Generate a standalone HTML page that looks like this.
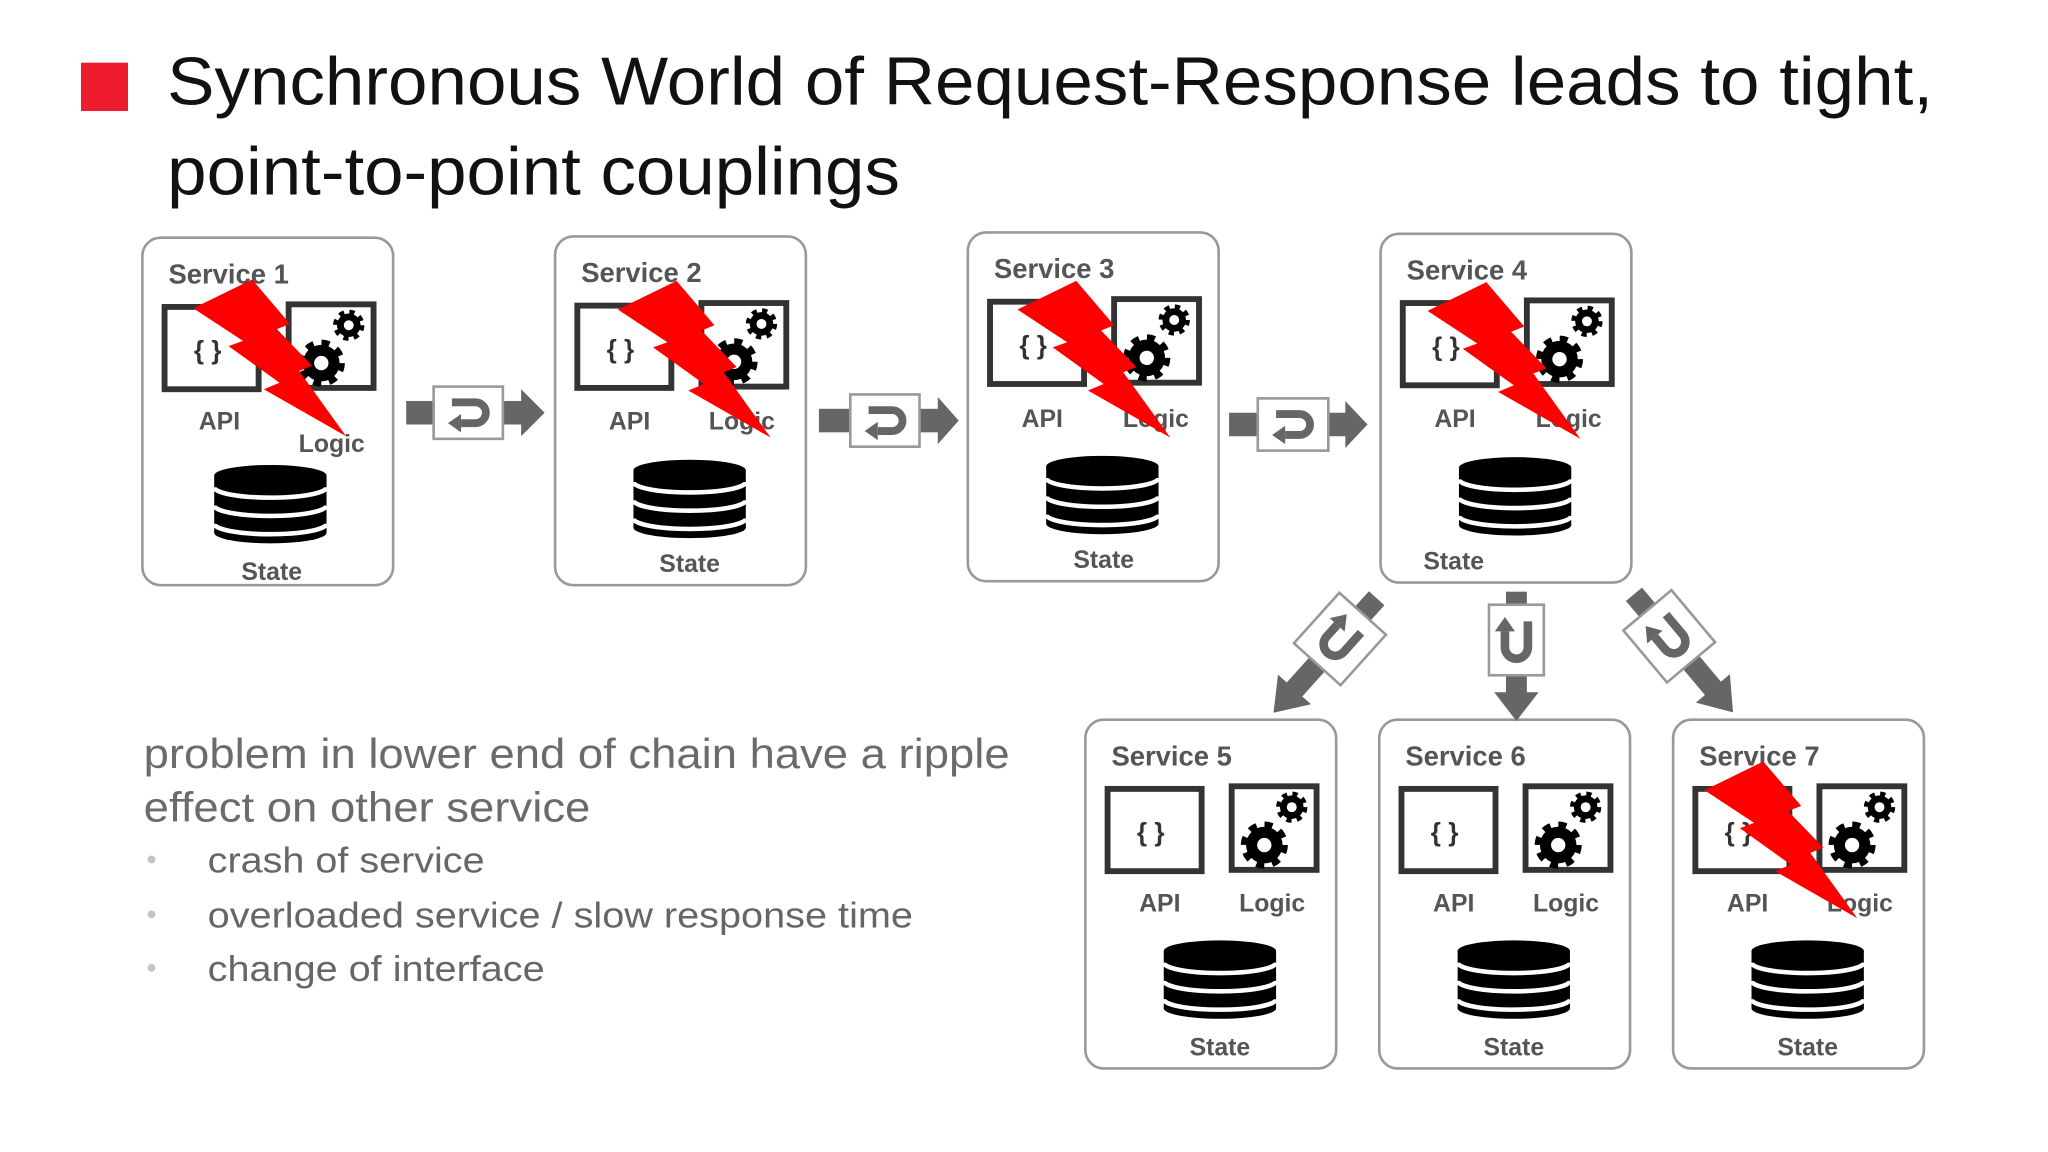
<!DOCTYPE html>
<html><head><meta charset="utf-8"><style>html,body{margin:0;padding:0;background:#fff}svg{display:block}</style></head>
<body>
<svg xmlns="http://www.w3.org/2000/svg" xmlns:xlink="http://www.w3.org/1999/xlink" width="2048" height="1152" viewBox="0 0 1568 882" preserveAspectRatio="none" font-family="Liberation Sans, Arial, sans-serif">
<defs>
  <g id="core">
    <rect x="17" y="53" width="72" height="63" fill="#fff" stroke="#333" stroke-width="4.5"/>
    <rect x="112" y="51" width="65" height="64" fill="#fff" stroke="#333" stroke-width="4.5"/>
    <g transform="translate(137,96)">
      <circle r="14" fill="#000"/>
      <circle r="14" fill="none" stroke="#000" stroke-width="8" stroke-dasharray="5.5 5.5"/>
      <circle r="5.5" fill="#fff"/>
    </g>
    <g transform="translate(158,67)">
      <circle r="9" fill="#000"/>
      <circle r="9" fill="none" stroke="#000" stroke-width="6" stroke-dasharray="3.5 3.6"/>
      <circle r="3.8" fill="#fff"/>
    </g>
  </g>
  <g id="db">
    <rect x="55" y="8" width="86" height="44" fill="#000"/>
    <ellipse cx="98" cy="8" rx="43" ry="8" fill="#000"/>
    <ellipse cx="98" cy="52" rx="43" ry="8" fill="#000"/>
    <path d="M55,17 A43,8 0 0 0 141,17 M55,31 A43,8 0 0 0 141,31 M55,45 A43,8 0 0 0 141,45" fill="none" stroke="#fff" stroke-width="3.5"/>
  </g>
  <polygon id="bolt" fill="#ff0000" points="24,54 69,32 98,66 88,70 115,98 105,102 141,152 78,116 90,111 51,83 62,79"/>
  <g id="uicon">
    <path d="M-13,-8 H5 A8,8 0 0 1 5,8 H-6" fill="none" stroke="#666" stroke-width="6"/>
    <polygon points="-6,1 -6,15 -16,8" fill="#666"/>
  </g>
</defs>

<!-- title -->
<rect x="62" y="48" width="36" height="37" fill="#ee1c2e"/>
<text x="128" y="80" font-size="52" fill="#111" textLength="1352" lengthAdjust="spacingAndGlyphs">Synchronous World of Request-Response leads to tight,</text>
<text x="128" y="149" font-size="52" fill="#111" textLength="561" lengthAdjust="spacingAndGlyphs">point-to-point couplings</text>

<!-- body text -->
<text x="110" y="588" font-size="32" fill="#6b6b6b" textLength="663" lengthAdjust="spacingAndGlyphs">problem in lower end of chain have a ripple</text>
<text x="110" y="629" font-size="32" fill="#6b6b6b" textLength="342" lengthAdjust="spacingAndGlyphs">effect on other service</text>
<circle cx="116" cy="658" r="3" fill="#c4c4c4"/>
<circle cx="116" cy="700" r="3" fill="#c4c4c4"/>
<circle cx="116" cy="741" r="3" fill="#c4c4c4"/>
<text x="159" y="668" font-size="28" fill="#666" textLength="212" lengthAdjust="spacingAndGlyphs">crash of service</text>
<text x="159" y="710" font-size="28" fill="#666" textLength="540" lengthAdjust="spacingAndGlyphs">overloaded service / slow response time</text>
<text x="159" y="751" font-size="28" fill="#666" textLength="258" lengthAdjust="spacingAndGlyphs">change of interface</text>

<!-- Service 1 -->
<g transform="translate(109,182)">
  <rect x="0" y="0" width="192" height="266" rx="14" fill="#fff" stroke="#999" stroke-width="2"/>
  <use xlink:href="#core"/>
  <text x="50" y="93" font-size="20" font-weight="bold" fill="#333" text-anchor="middle">{ }</text>
  <use xlink:href="#db" transform="translate(0,174)"/>
  <text x="20" y="35" font-size="21" font-weight="bold" fill="#555">Service 1</text>
  <text x="59" y="147" font-size="19" font-weight="bold" fill="#555" text-anchor="middle">API</text>
  <text x="145" y="164" font-size="19" font-weight="bold" fill="#555" text-anchor="middle">Logic</text>
  <text x="99" y="262" font-size="19" font-weight="bold" fill="#555" text-anchor="middle">State</text>
  <use xlink:href="#bolt" transform="translate(15,0)"/>
</g>
<!-- Service 2 -->
<g transform="translate(425,181)">
  <rect x="0" y="0" width="192" height="267" rx="14" fill="#fff" stroke="#999" stroke-width="2"/>
  <use xlink:href="#core"/>
  <text x="50" y="93" font-size="20" font-weight="bold" fill="#333" text-anchor="middle">{ }</text>
  <use xlink:href="#db" transform="translate(5,171)"/>
  <text x="20" y="35" font-size="21" font-weight="bold" fill="#555">Service 2</text>
  <text x="57" y="148" font-size="19" font-weight="bold" fill="#555" text-anchor="middle">API</text>
  <text x="143" y="148" font-size="19" font-weight="bold" fill="#555" text-anchor="middle">Logic</text>
  <text x="103" y="257" font-size="19" font-weight="bold" fill="#555" text-anchor="middle">State</text>
  <use xlink:href="#bolt" transform="translate(24,2)"/>
</g>
<!-- Service 3 -->
<g transform="translate(741,178)">
  <rect x="0" y="0" width="192" height="267" rx="14" fill="#fff" stroke="#999" stroke-width="2"/>
  <use xlink:href="#core"/>
  <text x="50" y="93" font-size="20" font-weight="bold" fill="#333" text-anchor="middle">{ }</text>
  <use xlink:href="#db" transform="translate(5,171)"/>
  <text x="20" y="35" font-size="21" font-weight="bold" fill="#555">Service 3</text>
  <text x="57" y="149" font-size="19" font-weight="bold" fill="#555" text-anchor="middle">API</text>
  <text x="144" y="149" font-size="19" font-weight="bold" fill="#555" text-anchor="middle">Logic</text>
  <text x="104" y="257" font-size="19" font-weight="bold" fill="#555" text-anchor="middle">State</text>
  <use xlink:href="#bolt" transform="translate(14,5)"/>
</g>
<!-- Service 4 -->
<g transform="translate(1057,179)">
  <rect x="0" y="0" width="192" height="267" rx="14" fill="#fff" stroke="#999" stroke-width="2"/>
  <use xlink:href="#core"/>
  <text x="50" y="93" font-size="20" font-weight="bold" fill="#333" text-anchor="middle">{ }</text>
  <use xlink:href="#db" transform="translate(5,171)"/>
  <text x="20" y="35" font-size="21" font-weight="bold" fill="#555">Service 4</text>
  <text x="57" y="148" font-size="19" font-weight="bold" fill="#555" text-anchor="middle">API</text>
  <text x="144" y="148" font-size="19" font-weight="bold" fill="#555" text-anchor="middle">Logic</text>
  <text x="56" y="257" font-size="19" font-weight="bold" fill="#555" text-anchor="middle">State</text>
  <use xlink:href="#bolt" transform="translate(12,5)"/>
</g>
<!-- Service 5 -->
<g transform="translate(831,551)">
  <rect x="0" y="0" width="192" height="267" rx="14" fill="#fff" stroke="#999" stroke-width="2"/>
  <use xlink:href="#core"/>
  <text x="50" y="93" font-size="20" font-weight="bold" fill="#333" text-anchor="middle">{ }</text>
  <use xlink:href="#db" transform="translate(5,169)"/>
  <text x="20" y="35" font-size="21" font-weight="bold" fill="#555">Service 5</text>
  <text x="57" y="147" font-size="19" font-weight="bold" fill="#555" text-anchor="middle">API</text>
  <text x="143" y="147" font-size="19" font-weight="bold" fill="#555" text-anchor="middle">Logic</text>
  <text x="103" y="257" font-size="19" font-weight="bold" fill="#555" text-anchor="middle">State</text>
</g>
<!-- Service 6 -->
<g transform="translate(1056,551)">
  <rect x="0" y="0" width="192" height="267" rx="14" fill="#fff" stroke="#999" stroke-width="2"/>
  <use xlink:href="#core"/>
  <text x="50" y="93" font-size="20" font-weight="bold" fill="#333" text-anchor="middle">{ }</text>
  <use xlink:href="#db" transform="translate(5,169)"/>
  <text x="20" y="35" font-size="21" font-weight="bold" fill="#555">Service 6</text>
  <text x="57" y="147" font-size="19" font-weight="bold" fill="#555" text-anchor="middle">API</text>
  <text x="143" y="147" font-size="19" font-weight="bold" fill="#555" text-anchor="middle">Logic</text>
  <text x="103" y="257" font-size="19" font-weight="bold" fill="#555" text-anchor="middle">State</text>
</g>
<!-- Service 7 -->
<g transform="translate(1281,551)">
  <rect x="0" y="0" width="192" height="267" rx="14" fill="#fff" stroke="#999" stroke-width="2"/>
  <use xlink:href="#core"/>
  <text x="50" y="93" font-size="20" font-weight="bold" fill="#333" text-anchor="middle">{ }</text>
  <use xlink:href="#db" transform="translate(5,169)"/>
  <text x="20" y="35" font-size="21" font-weight="bold" fill="#555">Service 7</text>
  <text x="57" y="147" font-size="19" font-weight="bold" fill="#555" text-anchor="middle">API</text>
  <text x="143" y="147" font-size="19" font-weight="bold" fill="#555" text-anchor="middle">Logic</text>
  <text x="103" y="257" font-size="19" font-weight="bold" fill="#555" text-anchor="middle">State</text>
  <use xlink:href="#bolt"/>
</g>

<!-- horizontal connectors -->
<g transform="translate(311,316)">
  <rect x="0" y="-9" width="22" height="18" fill="#666"/>
  <rect x="72" y="-9" width="18" height="18" fill="#666"/>
  <polygon points="88,-18 106,0 88,18" fill="#666"/>
  <rect x="21" y="-20" width="53" height="40" fill="#fff" stroke="#999" stroke-width="2"/>
  <use xlink:href="#uicon" transform="translate(48,0)"/>
</g>
<g transform="translate(627,322)">
  <rect x="0" y="-9" width="25" height="18" fill="#666"/>
  <rect x="75" y="-9" width="22" height="18" fill="#666"/>
  <polygon points="91,-18 107,0 91,18" fill="#666"/>
  <rect x="24" y="-20" width="53" height="40" fill="#fff" stroke="#999" stroke-width="2"/>
  <use xlink:href="#uicon" transform="translate(51,0)"/>
</g>
<g transform="translate(941,325)">
  <rect x="0" y="-9" width="23" height="18" fill="#666"/>
  <rect x="75" y="-9" width="16" height="18" fill="#666"/>
  <polygon points="89,-18 106,0 89,18" fill="#666"/>
  <rect x="22" y="-20" width="54" height="40" fill="#fff" stroke="#999" stroke-width="2"/>
  <use xlink:href="#uicon" transform="translate(49,0)"/>
</g>

<!-- vertical / diagonal connectors -->
<g transform="translate(1161,453) rotate(90)">
  <rect x="0" y="-8" width="12" height="16" fill="#666"/>
  <rect x="62" y="-8" width="20" height="16" fill="#666"/>
  <polygon points="77,-17 99,0 77,17" fill="#666"/>
  <rect x="10" y="-21" width="54" height="42" fill="#fff" stroke="#999" stroke-width="2"/>
  <use xlink:href="#uicon" transform="translate(37,0) scale(1.1)"/>
</g>
<g transform="translate(1054,458) rotate(132)">
  <rect x="0" y="-8" width="20" height="16" fill="#666"/>
  <rect x="66" y="-8" width="32" height="16" fill="#666"/>
  <polygon points="94,-17 118,0 94,17" fill="#666"/>
  <rect x="16" y="-24" width="52" height="48" fill="#fff" stroke="#999" stroke-width="2"/>
  <use xlink:href="#uicon" transform="translate(42,0) scale(1.1)"/>
</g>
<g transform="translate(1251,455) rotate(50)">
  <rect x="0" y="-8" width="20" height="16" fill="#666"/>
  <rect x="66" y="-8" width="32" height="16" fill="#666"/>
  <polygon points="94,-17 118,0 94,17" fill="#666"/>
  <rect x="16" y="-24" width="52" height="48" fill="#fff" stroke="#999" stroke-width="2"/>
  <use xlink:href="#uicon" transform="translate(42,0) scale(1.1)"/>
</g>
</svg>
</body></html>
